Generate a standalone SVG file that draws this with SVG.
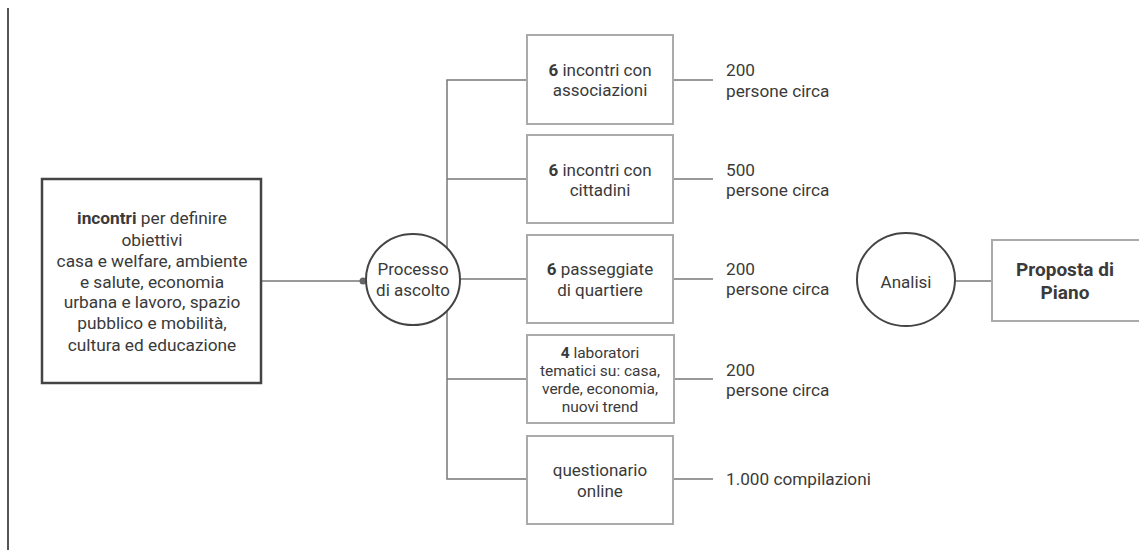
<svg xmlns="http://www.w3.org/2000/svg" width="1139" height="550" viewBox="0 0 1139 550">
<style>
text{font-family:Roboto,"Liberation Sans",sans-serif;fill:#3a3a3a;text-anchor:middle}
.t{font-size:17px}
.s{font-size:15.5px}
.l{font-size:17.3px}
.n{text-anchor:start;font-size:17.2px}
.b{font-weight:bold}
.p{font-size:19px;font-weight:bold}
.box{fill:#fff;stroke:#aaa;stroke-width:2}
.dark{fill:#fff;stroke:#444;stroke-width:2.5}
.circ{fill:#fff;stroke:#444;stroke-width:2}
.c{fill:none;stroke:#777;stroke-width:1.5}
</style>
<rect width="1139" height="550" fill="#fff"/>
<line x1="8" y1="8" x2="8" y2="550" stroke="#555" stroke-width="2"/>
<g id="connectors">
<line class="c" x1="261" y1="281" x2="366" y2="281"/>
<circle cx="363" cy="281" r="3.5" fill="#666"/>
<polyline class="c" points="526,80 447,80 447,479 526,479"/>
<line class="c" x1="447" y1="179" x2="526" y2="179"/>
<line class="c" x1="447" y1="279" x2="526" y2="279"/>
<line class="c" x1="447" y1="379" x2="526" y2="379"/>
<line class="c" x1="673" y1="80" x2="713" y2="80"/>
<line class="c" x1="673" y1="179" x2="713" y2="179"/>
<line class="c" x1="673" y1="279" x2="713" y2="279"/>
<line class="c" x1="673" y1="379" x2="713" y2="379"/>
<line class="c" x1="673" y1="479" x2="713" y2="479"/>
<line class="c" x1="955" y1="281" x2="992" y2="281"/>
</g>
<g id="incontri">
<rect class="dark" x="42" y="179" width="219" height="204"/>
<text class="l" x="152" y="224"><tspan class="b">incontri</tspan> per definire</text>
<text class="l" x="152" y="246">obiettivi</text>
<text class="l" x="152" y="267">casa e welfare, ambiente</text>
<text class="l" x="152" y="288">e salute, economia</text>
<text class="l" x="152" y="308">urbana e lavoro, spazio</text>
<text class="l" x="152" y="329">pubblico e mobilità,</text>
<text class="l" x="152" y="351">cultura ed educazione</text>
</g>
<g id="processo">
<ellipse class="circ" cx="413" cy="279.5" rx="47" ry="45.5"/>
<text class="t" x="413" y="275">Processo</text>
<text class="t" x="413" y="296">di ascolto</text>
</g>
<g id="b1">
<rect class="box" x="527" y="35" width="146" height="89"/>
<text class="t" x="600" y="76"><tspan class="b">6</tspan> incontri con</text>
<text class="t" x="600" y="96">associazioni</text>
</g>
<g id="b2">
<rect class="box" x="527" y="135" width="146" height="88"/>
<text class="t" x="600" y="176"><tspan class="b">6</tspan> incontri con</text>
<text class="t" x="600" y="196">cittadini</text>
</g>
<g id="b3">
<rect class="box" x="527" y="235" width="146" height="88"/>
<text class="t" x="600" y="275"><tspan class="b">6</tspan> passeggiate</text>
<text class="t" x="600" y="296">di quartiere</text>
</g>
<g id="b4">
<rect class="box" x="527" y="335" width="147" height="88"/>
<text class="s" x="600" y="358"><tspan class="b">4</tspan> laboratori</text>
<text class="s" x="600" y="376">tematici su: casa,</text>
<text class="s" x="600" y="394">verde, economia,</text>
<text class="s" x="600" y="412">nuovi trend</text>
</g>
<g id="b5">
<rect class="box" x="527" y="436" width="146" height="88"/>
<text class="t" x="600" y="476">questionario</text>
<text class="t" x="600" y="497">online</text>
</g>
<g id="r1"><text class="n" x="726" y="76">200</text><text class="n" x="726" y="97">persone circa</text></g>
<g id="r2"><text class="n" x="726" y="176">500</text><text class="n" x="726" y="196">persone circa</text></g>
<g id="r3"><text class="n" x="726" y="275">200</text><text class="n" x="726" y="295">persone circa</text></g>
<g id="r4"><text class="n" x="726" y="376">200</text><text class="n" x="726" y="396">persone circa</text></g>
<g id="r5"><text class="n" x="726" y="485">1.000 compilazioni</text></g>
<g id="analisi">
<ellipse class="circ" cx="906" cy="279.5" rx="49" ry="46.5"/>
<text class="t" x="906" y="288">Analisi</text>
</g>
<g id="proposta">
<rect class="box" x="992" y="240" width="160" height="81"/>
<text class="p" x="1065" y="276">Proposta di</text>
<text class="p" x="1065" y="299">Piano</text>
</g>
</svg>
